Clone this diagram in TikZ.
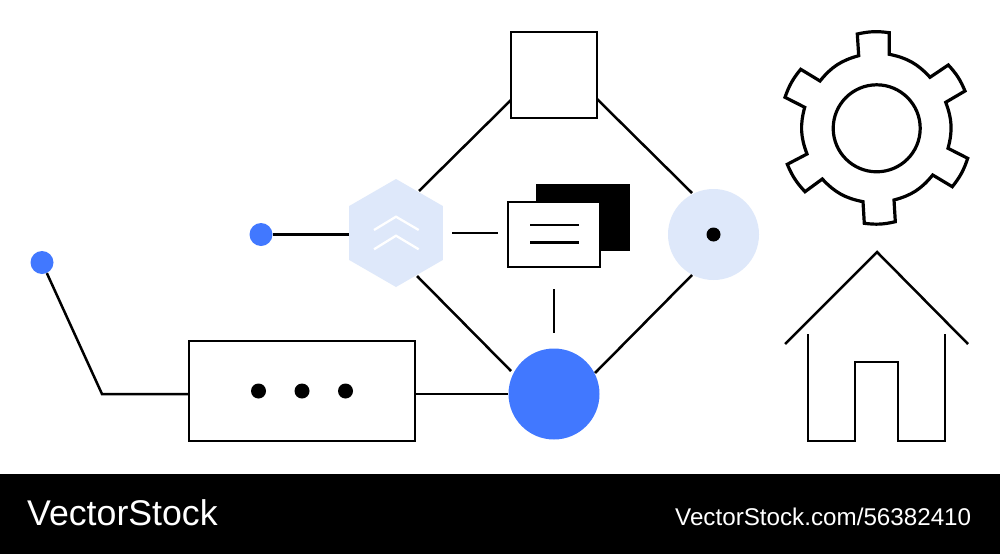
\documentclass[tikz,border=0pt]{standalone}
\usepackage{fontspec}
\setmainfont{Liberation Sans}
\usetikzlibrary{shapes.geometric}
\definecolor{bluedot}{HTML}{4178FF}
\definecolor{paleblue}{HTML}{DEE8FA}
\tikzset{
  x=1pt,y=-1pt,
  ink/.style={draw=black,line width=2.5pt},
  wire/.style={ink,line cap=butt},
  box/.style={ink,fill=white,rectangle,minimum width=#1,inner sep=0pt},
  disc/.style={circle,inner sep=0pt,minimum size=#1},
  brand/.style={text=white,inner sep=0pt,anchor=base west},
  chev/.style={draw=white,line width=2.3pt,fill=none},
}
\begin{document}
\begin{tikzpicture}
\useasboundingbox (0,0) rectangle (1000,554);
\fill[white] (0,0) rectangle (1000,474);
\fill[black] (0,474) rectangle (1000,554);

% connectors' free ends
\coordinate (elbow) at (102,394);
\coordinate (sqL) at (511,100);
\coordinate (hexT) at (419,191);
\coordinate (sqR) at (597,99);
\coordinate (ciT) at (692,193);
\coordinate (ciB) at (692,275);
\coordinate (blR) at (595,373);
\coordinate (hexB) at (417,276);
\coordinate (blL) at (511,371);
\coordinate (gapA) at (452,233);
\coordinate (gapB) at (498,233);
\coordinate (gapC) at (554,289);
\coordinate (gapD) at (554,333);

% nodes
\node[box=86pt,minimum height=86pt] (square) at (554,75) {};
\node[regular polygon,regular polygon sides=6,shape border rotate=30,fill=paleblue,inner sep=0pt,minimum size=108pt] (hex) at (396,233) {};
\node[disc=91pt,fill=paleblue] (lightc) at (713.5,234.5) {};
\node[disc=14pt,fill=black] (lightdot) at (713.5,234.5) {};
\node[disc=91pt,fill=bluedot] (bigblue) at (554,394) {};
\node[disc=23pt,fill=bluedot] (dotA) at (261,234.5) {};
\node[disc=23pt,fill=bluedot] (dotB) at (42,262.5) {};
\node[box=226pt,minimum height=100pt] (bar) at (302,391) {};
\node[disc=15pt,fill=black] (d1) at (258.5,391) {};
\node[disc=15pt,fill=black] (d2) at (302,391) {};
\node[disc=15pt,fill=black] (d3) at (345.5,391) {};
\node[fill=black,rectangle,inner sep=0pt,minimum width=94pt,minimum height=67.5pt] (back) at (583,217.5) {};
\node[box=92pt,minimum height=65pt] (front) at (554,234.5) {};
\coordinate (l1a) at (530,225);
\coordinate (l1b) at (579,225);
\coordinate (l2a) at (530,242.5);
\coordinate (l2b) at (579,242.5);

% connectors
\draw[wire] (dotB) -- (elbow) -- (bar.west |- elbow);
\draw[wire] (bar.east |- bigblue) -- (bigblue);
\draw[wire] (dotA) -- (hex.west |- dotA);
\draw[wire] (sqL) -- (hexT);
\draw[wire] (sqR) -- (ciT);
\draw[wire] (ciB) -- (blR);
\draw[wire] (hexB) -- (blL);
\draw[wire] (gapA) -- (gapB);
\draw[wire] (gapC) -- (gapD);
\draw[wire] (l1a) -- (l1b);
\draw[wire] (l2a) -- (l2b);

% chevrons
\draw[chev] (374,230) -- (396,216.7) -- (418.7,230);
\draw[chev] (374,249.3) -- (396,235.7) -- (418.7,249.3);

% gear
\begin{scope}[line join=miter]
\draw[draw=black,line width=3.2pt]
 (858.7,55.7) -- (857.3,34) to[bend left=10] (889.3,32.7) -- (889.3,54.3)
 to[bend left=18] (930,77.3) -- (948.3,65) to[bend left=10] (965,91) -- (945.7,102.3)
 to[bend left=18] (948,148.3) -- (967.7,158.3) to[bend left=10] (952.3,186.7) -- (932.7,175)
 to[bend left=18] (894,200) -- (895.3,221.7) to[bend left=10] (864.3,223.3) -- (863,201.7)
 to[bend left=18] (822.3,179) -- (805,191.7) to[bend left=10] (787.3,164.3) -- (807,154)
 to[bend left=18] (804.7,107.3) -- (785,97.3) to[bend left=10] (800.7,69.3) -- (820,81)
 to[bend left=18] cycle;
\end{scope}
\node[circle,draw=black,line width=3.2pt,inner sep=0pt,minimum size=87pt] (hub) at (876.7,128.3) {};

% house
\draw[ink,line join=miter] (785,344) -- (877,252) -- (968,344);
\draw[ink,line join=miter] (808,334) -- (808,441) -- (855,441) -- (855,362) -- (898,362) -- (898,441) -- (945,441) -- (945,334);

% footer
\node[brand,font=\fontsize{35.7}{36}\selectfont] (logo) at (27,525.5) {VectorStock};
\node[brand,font=\fontsize{24.2}{25}\selectfont] (ref) at (675,525) {VectorStock.com/56382410};
\end{tikzpicture}
\end{document}
